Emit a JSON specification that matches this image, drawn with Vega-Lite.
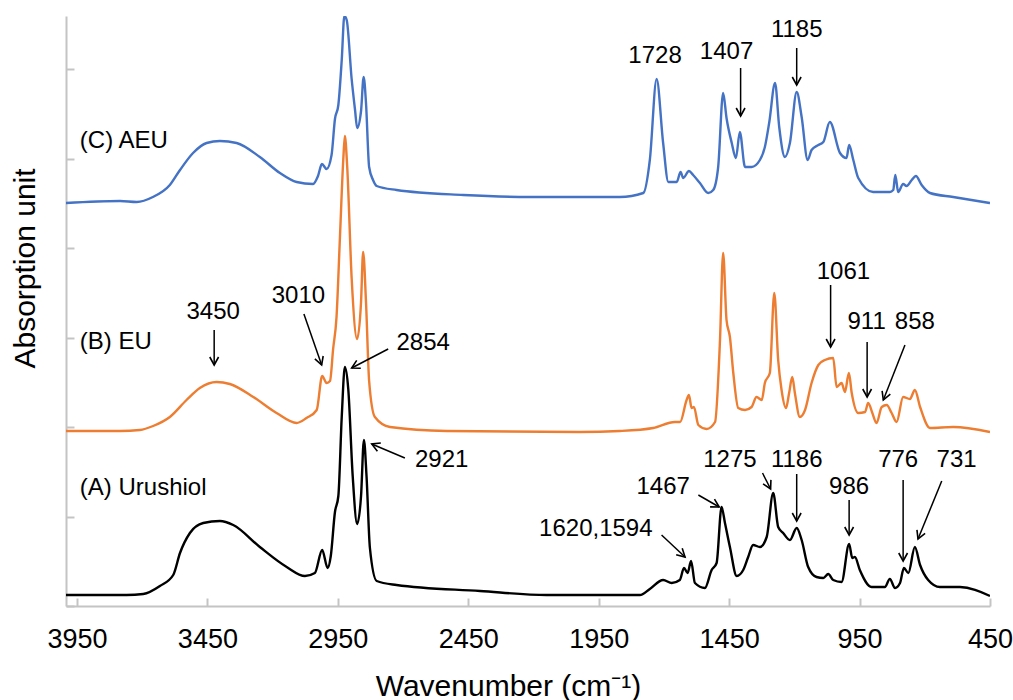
{
  "$schema": "https://vega.github.io/schema/vega-lite/v6.json",
  "width": 924,
  "height": 590,
  "autosize": {"type": "none"},
  "padding": {"left": 66, "top": 16, "right": 23, "bottom": 94},
  "background": "white",
  "config": {"view": {"stroke": null}, "font": "Liberation Sans"},
  "datasets": {
    "spectra": [
      {"s":"C","wn":3992,"a":403},{"s":"C","wn":3785,"a":405},{"s":"C","wn":3721,"a":404},{"s":"C","wn":3659,"a":409},{"s":"C","wn":3594,"a":421},{"s":"C","wn":3555,"a":436},{"s":"C","wn":3505,"a":453},{"s":"C","wn":3453,"a":463},{"s":"C","wn":3402,"a":465},{"s":"C","wn":3338,"a":463},{"s":"C","wn":3249,"a":449},{"s":"C","wn":3172,"a":433},{"s":"C","wn":3108,"a":424},{"s":"C","wn":3045,"a":422},{"s":"C","wn":3026,"a":430},{"s":"C","wn":3011,"a":442},{"s":"C","wn":2993,"a":437},{"s":"C","wn":2974,"a":451},{"s":"C","wn":2961,"a":487},{"s":"C","wn":2948,"a":501},{"s":"C","wn":2935,"a":546},{"s":"C","wn":2925,"a":590},{"s":"C","wn":2916,"a":586},{"s":"C","wn":2897,"a":527},{"s":"C","wn":2884,"a":496},{"s":"C","wn":2876,"a":478},{"s":"C","wn":2861,"a":495},{"s":"C","wn":2851,"a":529},{"s":"C","wn":2842,"a":503},{"s":"C","wn":2830,"a":439},{"s":"C","wn":2815,"a":426},{"s":"C","wn":2801,"a":420},{"s":"C","wn":2725,"a":416},{"s":"C","wn":2469,"a":411},{"s":"C","wn":2214,"a":409},{"s":"C","wn":1869,"a":409},{"s":"C","wn":1779,"a":413},{"s":"C","wn":1754,"a":446},{"s":"C","wn":1728,"a":527},{"s":"C","wn":1703,"a":463},{"s":"C","wn":1683,"a":424},{"s":"C","wn":1651,"a":424},{"s":"C","wn":1636,"a":434},{"s":"C","wn":1626,"a":428},{"s":"C","wn":1604,"a":435},{"s":"C","wn":1588,"a":431},{"s":"C","wn":1562,"a":423},{"s":"C","wn":1530,"a":413},{"s":"C","wn":1511,"a":416},{"s":"C","wn":1492,"a":439},{"s":"C","wn":1473,"a":513},{"s":"C","wn":1460,"a":488},{"s":"C","wn":1440,"a":463},{"s":"C","wn":1424,"a":448},{"s":"C","wn":1409,"a":474},{"s":"C","wn":1389,"a":439},{"s":"C","wn":1364,"a":439},{"s":"C","wn":1332,"a":446},{"s":"C","wn":1313,"a":459},{"s":"C","wn":1296,"a":484},{"s":"C","wn":1274,"a":523},{"s":"C","wn":1258,"a":479},{"s":"C","wn":1236,"a":449},{"s":"C","wn":1217,"a":463},{"s":"C","wn":1191,"a":514},{"s":"C","wn":1172,"a":489},{"s":"C","wn":1149,"a":446},{"s":"C","wn":1134,"a":456},{"s":"C","wn":1108,"a":461},{"s":"C","wn":1089,"a":464},{"s":"C","wn":1064,"a":484},{"s":"C","wn":1025,"a":453},{"s":"C","wn":1000,"a":448},{"s":"C","wn":990,"a":461},{"s":"C","wn":974,"a":446},{"s":"C","wn":955,"a":428},{"s":"C","wn":898,"a":414},{"s":"C","wn":834,"a":414},{"s":"C","wn":821,"a":416},{"s":"C","wn":813,"a":431},{"s":"C","wn":802,"a":414},{"s":"C","wn":783,"a":422},{"s":"C","wn":770,"a":420},{"s":"C","wn":750,"a":426},{"s":"C","wn":734,"a":430},{"s":"C","wn":712,"a":421},{"s":"C","wn":680,"a":413},{"s":"C","wn":591,"a":409},{"s":"C","wn":450,"a":403},
      {"s":"B","wn":3992,"a":175},{"s":"B","wn":3785,"a":175},{"s":"B","wn":3709,"a":176},{"s":"B","wn":3658,"a":180},{"s":"B","wn":3594,"a":189},{"s":"B","wn":3530,"a":206},{"s":"B","wn":3479,"a":218},{"s":"B","wn":3415,"a":224},{"s":"B","wn":3364,"a":222},{"s":"B","wn":3274,"a":209},{"s":"B","wn":3185,"a":193},{"s":"B","wn":3108,"a":183},{"s":"B","wn":3070,"a":188},{"s":"B","wn":3031,"a":196},{"s":"B","wn":3010,"a":230},{"s":"B","wn":2993,"a":223},{"s":"B","wn":2980,"a":225},{"s":"B","wn":2968,"a":257},{"s":"B","wn":2955,"a":289},{"s":"B","wn":2942,"a":368},{"s":"B","wn":2929,"a":447},{"s":"B","wn":2923,"a":470},{"s":"B","wn":2914,"a":439},{"s":"B","wn":2897,"a":328},{"s":"B","wn":2876,"a":267},{"s":"B","wn":2861,"a":304},{"s":"B","wn":2853,"a":354},{"s":"B","wn":2842,"a":304},{"s":"B","wn":2830,"a":225},{"s":"B","wn":2808,"a":189},{"s":"B","wn":2750,"a":179},{"s":"B","wn":2533,"a":175},{"s":"B","wn":2022,"a":174},{"s":"B","wn":1869,"a":175},{"s":"B","wn":1741,"a":178},{"s":"B","wn":1658,"a":184},{"s":"B","wn":1638,"a":184},{"s":"B","wn":1613,"a":206},{"s":"B","wn":1604,"a":211},{"s":"B","wn":1594,"a":198},{"s":"B","wn":1585,"a":199},{"s":"B","wn":1568,"a":181},{"s":"B","wn":1536,"a":177},{"s":"B","wn":1504,"a":184},{"s":"B","wn":1485,"a":266},{"s":"B","wn":1473,"a":353},{"s":"B","wn":1460,"a":286},{"s":"B","wn":1447,"a":269},{"s":"B","wn":1434,"a":233},{"s":"B","wn":1415,"a":198},{"s":"B","wn":1389,"a":196},{"s":"B","wn":1364,"a":199},{"s":"B","wn":1345,"a":209},{"s":"B","wn":1325,"a":206},{"s":"B","wn":1313,"a":223},{"s":"B","wn":1294,"a":233},{"s":"B","wn":1277,"a":313},{"s":"B","wn":1262,"a":246},{"s":"B","wn":1249,"a":216},{"s":"B","wn":1232,"a":198},{"s":"B","wn":1220,"a":213},{"s":"B","wn":1208,"a":229},{"s":"B","wn":1198,"a":213},{"s":"B","wn":1179,"a":189},{"s":"B","wn":1159,"a":196},{"s":"B","wn":1134,"a":223},{"s":"B","wn":1108,"a":241},{"s":"B","wn":1083,"a":246},{"s":"B","wn":1051,"a":248},{"s":"B","wn":1038,"a":219},{"s":"B","wn":1019,"a":223},{"s":"B","wn":1006,"a":214},{"s":"B","wn":991,"a":233},{"s":"B","wn":980,"a":213},{"s":"B","wn":955,"a":193},{"s":"B","wn":929,"a":194},{"s":"B","wn":917,"a":203},{"s":"B","wn":901,"a":193},{"s":"B","wn":885,"a":183},{"s":"B","wn":865,"a":199},{"s":"B","wn":846,"a":201},{"s":"B","wn":827,"a":193},{"s":"B","wn":808,"a":184},{"s":"B","wn":783,"a":209},{"s":"B","wn":757,"a":207},{"s":"B","wn":738,"a":216},{"s":"B","wn":718,"a":199},{"s":"B","wn":680,"a":178},{"s":"B","wn":591,"a":179},{"s":"B","wn":450,"a":174},
      {"s":"A","wn":3992,"a":11},{"s":"A","wn":3760,"a":11},{"s":"A","wn":3696,"a":12},{"s":"A","wn":3632,"a":20},{"s":"A","wn":3581,"a":31},{"s":"A","wn":3555,"a":53},{"s":"A","wn":3517,"a":73},{"s":"A","wn":3466,"a":83},{"s":"A","wn":3402,"a":85},{"s":"A","wn":3351,"a":81},{"s":"A","wn":3249,"a":59},{"s":"A","wn":3146,"a":39},{"s":"A","wn":3076,"a":30},{"s":"A","wn":3038,"a":33},{"s":"A","wn":3010,"a":56},{"s":"A","wn":2989,"a":38},{"s":"A","wn":2977,"a":50},{"s":"A","wn":2961,"a":94},{"s":"A","wn":2948,"a":110},{"s":"A","wn":2935,"a":189},{"s":"A","wn":2923,"a":239},{"s":"A","wn":2910,"a":217},{"s":"A","wn":2893,"a":130},{"s":"A","wn":2876,"a":82},{"s":"A","wn":2861,"a":110},{"s":"A","wn":2850,"a":166},{"s":"A","wn":2840,"a":130},{"s":"A","wn":2827,"a":58},{"s":"A","wn":2801,"a":25},{"s":"A","wn":2725,"a":21},{"s":"A","wn":2405,"a":15},{"s":"A","wn":2150,"a":11},{"s":"A","wn":1792,"a":11},{"s":"A","wn":1754,"a":17},{"s":"A","wn":1703,"a":26},{"s":"A","wn":1670,"a":23},{"s":"A","wn":1639,"a":26},{"s":"A","wn":1623,"a":38},{"s":"A","wn":1609,"a":33},{"s":"A","wn":1596,"a":45},{"s":"A","wn":1581,"a":23},{"s":"A","wn":1543,"a":18},{"s":"A","wn":1517,"a":36},{"s":"A","wn":1498,"a":43},{"s":"A","wn":1479,"a":99},{"s":"A","wn":1466,"a":83},{"s":"A","wn":1447,"a":59},{"s":"A","wn":1421,"a":30},{"s":"A","wn":1396,"a":36},{"s":"A","wn":1377,"a":49},{"s":"A","wn":1358,"a":61},{"s":"A","wn":1332,"a":59},{"s":"A","wn":1306,"a":69},{"s":"A","wn":1281,"a":113},{"s":"A","wn":1262,"a":79},{"s":"A","wn":1243,"a":73},{"s":"A","wn":1217,"a":66},{"s":"A","wn":1191,"a":78},{"s":"A","wn":1172,"a":66},{"s":"A","wn":1147,"a":39},{"s":"A","wn":1115,"a":29},{"s":"A","wn":1089,"a":28},{"s":"A","wn":1070,"a":32},{"s":"A","wn":1051,"a":26},{"s":"A","wn":1019,"a":24},{"s":"A","wn":990,"a":62},{"s":"A","wn":978,"a":48},{"s":"A","wn":968,"a":49},{"s":"A","wn":949,"a":36},{"s":"A","wn":904,"a":19},{"s":"A","wn":853,"a":19},{"s":"A","wn":834,"a":27},{"s":"A","wn":814,"a":18},{"s":"A","wn":795,"a":23},{"s":"A","wn":780,"a":38},{"s":"A","wn":763,"a":33},{"s":"A","wn":738,"a":59},{"s":"A","wn":718,"a":41},{"s":"A","wn":687,"a":26},{"s":"A","wn":642,"a":19},{"s":"A","wn":565,"a":19},{"s":"A","wn":450,"a":10}
    ],
    "arrows": [
      {"x1":3424,"y1":276,"x2":3424,"y2":241},
      {"x1":3080,"y1":292,"x2":3012,"y2":241},
      {"x1":2757,"y1":257,"x2":2897,"y2":238},
      {"x1":2693,"y1":148,"x2":2820,"y2":162},
      {"x1":1709,"y1":71,"x2":1619,"y2":49},
      {"x1":1568,"y1":111,"x2":1488,"y2":99},
      {"x1":1322,"y1":133,"x2":1291,"y2":117},
      {"x1":1191,"y1":132,"x2":1191,"y2":85},
      {"x1":990,"y1":106,"x2":990,"y2":71},
      {"x1":783,"y1":126,"x2":783,"y2":45},
      {"x1":635,"y1":125,"x2":726,"y2":67},
      {"x1":1061,"y1":321,"x2":1061,"y2":259},
      {"x1":921,"y1":264,"x2":921,"y2":209},
      {"x1":776,"y1":261,"x2":859,"y2":206},
      {"x1":1406,"y1":538,"x2":1406,"y2":490},
      {"x1":1191,"y1":558,"x2":1191,"y2":521}
    ],
    "labels": [
      {"t":"3450","x":3428,"y":294},
      {"t":"3010","x":3101,"y":310},
      {"t":"2854","x":2623,"y":263},
      {"t":"2921","x":2552,"y":146},
      {"t":"1728","x":1734,"y":550},
      {"t":"1407","x":1460,"y":554},
      {"t":"1185","x":1191,"y":576},
      {"t":"1061","x":1012,"y":334},
      {"t":"911","x":923,"y":284},
      {"t":"858","x":738,"y":284},
      {"t":"1620,1594","x":1961,"y":77},
      {"t":"1467","x":1703,"y":119},
      {"t":"1275","x":1447,"y":146},
      {"t":"1186","x":1191,"y":146},
      {"t":"986","x":990,"y":119},
      {"t":"776","x":802,"y":146},
      {"t":"731","x":578,"y":146}
    ],
    "names": [
      {"t":"(C) AEU","x":3939,"y":465},
      {"t":"(B) EU","x":3939,"y":264},
      {"t":"(A) Urushiol","x":3939,"y":118}
    ]
  },
  "layer": [
    {
      "data": {"name": "spectra"},
      "mark": {"type": "line", "strokeWidth": 2.4, "clip": true, "interpolate": "monotone"},
      "encoding": {
        "x": {
          "field": "wn", "type": "quantitative", "title": "Wavenumber (cm⁻¹)",
          "scale": {"domain": [450, 3992], "reverse": true, "nice": false, "zero": false},
          "axis": {
            "values": [3950, 3450, 2950, 2450, 1950, 1450, 950, 450],
            "format": "d",
            "grid": false,
            "domainColor": "#c4c4c4", "domainWidth": 2,
            "tickColor": "#c4c4c4", "tickWidth": 2, "tickSize": -8,
            "labelFont": "Liberation Sans", "labelFontSize": 27, "labelColor": "#000000",
            "labelFlush": false, "labelOverlap": false, "labelBound": false,
            "labelBaseline": "alphabetic", "labelPadding": 49,
            "titleFont": "Liberation Sans", "titleFontSize": 30, "titleFontWeight": "normal", "titleColor": "#000000",
            "titleX": 442, "titleY": 89, "titleAlign": "center", "titleBaseline": "alphabetic"
          }
        },
        "y": {
          "field": "a", "type": "quantitative", "title": "Absorption unit",
          "scale": {"domain": [0, 590], "nice": false, "zero": false},
          "axis": {
            "values": [0, 89.5, 179, 268.5, 358, 447.5, 537],
            "labels": false, "grid": false,
            "domainColor": "#c4c4c4", "domainWidth": 2,
            "tickColor": "#c4c4c4", "tickWidth": 2, "tickSize": -8,
            "titleFont": "Liberation Sans", "titleFontSize": 30, "titleFontWeight": "normal", "titleColor": "#000000",
            "titleAngle": -90, "titleX": -32, "titleY": 252, "titleAlign": "center", "titleBaseline": "alphabetic"
          }
        },
        "color": {
          "field": "s", "type": "nominal",
          "scale": {"domain": ["A", "B", "C"], "range": ["#000000", "#ED7D31", "#4472C4"]},
          "legend": null
        }
      }
    },
    {
      "data": {"name": "arrows"},
      "mark": {"type": "rule", "color": "#000000", "strokeWidth": 1.5},
      "encoding": {
        "x": {"field": "x1", "type": "quantitative", "title": "Wavenumber (cm⁻¹)"},
        "x2": {"field": "x2"},
        "y": {"field": "y1", "type": "quantitative", "title": "Absorption unit"},
        "y2": {"field": "y2"}
      }
    },
    {
      "data": {"name": "arrows"},
      "transform": [
        {"calculate": "atan2((datum.x2 - datum.x1) * 924 / 3542, -(datum.y2 - datum.y1)) * 180 / PI", "as": "ang"}
      ],
      "mark": {"type": "point", "shape": "M-0.55,-1L0,0L0.55,-1", "filled": false, "stroke": "#000000", "strokeWidth": 1.6, "size": 256, "opacity": 1},
      "encoding": {
        "x": {"field": "x2", "type": "quantitative", "title": "Wavenumber (cm⁻¹)"},
        "y": {"field": "y2", "type": "quantitative", "title": "Absorption unit"},
        "angle": {"field": "ang", "type": "quantitative", "scale": null}
      }
    },
    {
      "data": {"name": "labels"},
      "mark": {"type": "text", "font": "Liberation Sans", "fontSize": 24, "align": "center", "baseline": "middle", "color": "#000000"},
      "encoding": {
        "x": {"field": "x", "type": "quantitative", "title": "Wavenumber (cm⁻¹)"},
        "y": {"field": "y", "type": "quantitative", "title": "Absorption unit"},
        "text": {"field": "t"}
      }
    },
    {
      "data": {"name": "names"},
      "mark": {"type": "text", "font": "Liberation Sans", "fontSize": 24, "align": "left", "baseline": "middle", "color": "#000000"},
      "encoding": {
        "x": {"field": "x", "type": "quantitative", "title": "Wavenumber (cm⁻¹)"},
        "y": {"field": "y", "type": "quantitative", "title": "Absorption unit"},
        "text": {"field": "t"}
      }
    }
  ]
}
